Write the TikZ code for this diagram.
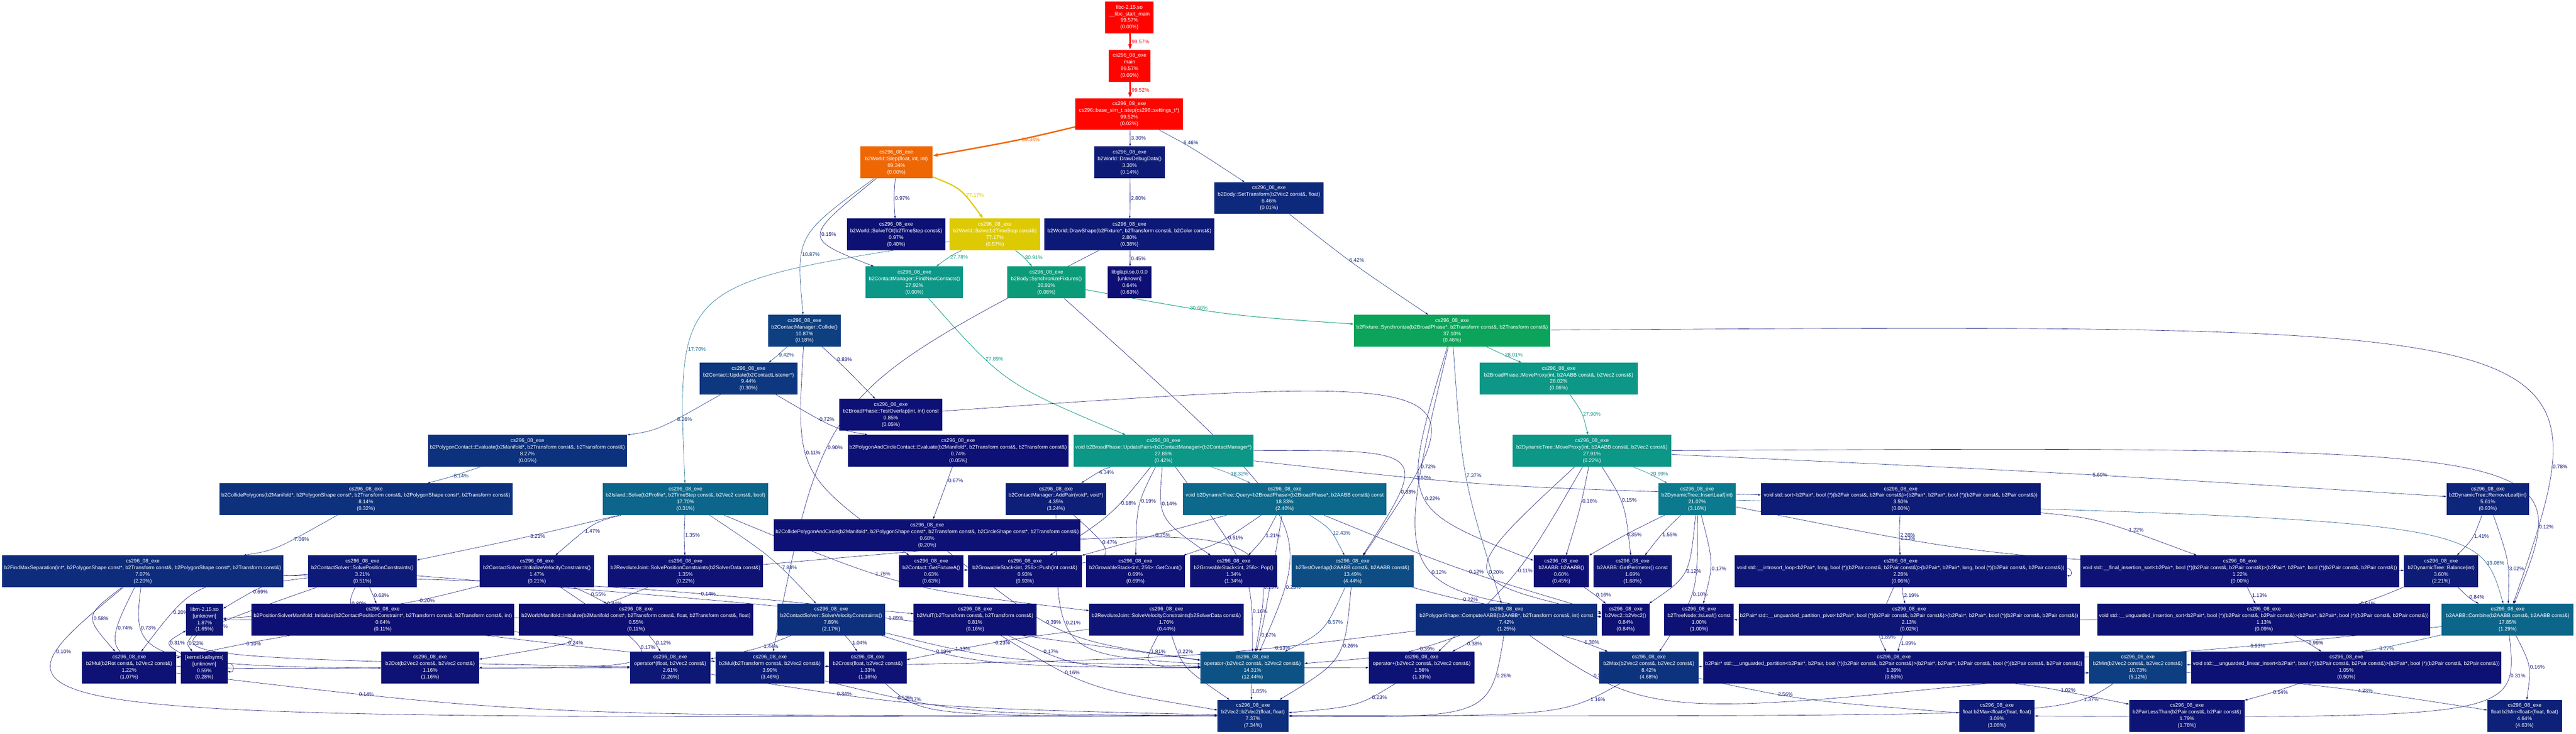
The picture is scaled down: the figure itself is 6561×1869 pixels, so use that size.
\documentclass[tikz,border=0pt]{standalone}
\usepackage{fontspec}
\setmainfont{Liberation Sans}
\usetikzlibrary{arrows.meta}
\pgfdeclarelayer{bg}
\pgfsetlayers{bg,main}
\newcommand\csex{cs296\_08\_exe}
\newcommand\gphue[2]{%
  \pgfmathsetmacro\gpt{#2}%
  \pgfmathsetmacro\gpt{\gpt<0 ? \gpt+1 : (\gpt>1 ? \gpt-1 : \gpt)}%
  \pgfmathsetmacro#1{(6*\gpt<1) ? (\gpa+(\gpb-\gpa)*\gpt*6) : ((2*\gpt<1) ? \gpb : ((3*\gpt<2) ? (\gpa+(\gpb-\gpa)*(2/3-\gpt)*6) : \gpa))}%
}
\newcommand\gcolor[2]{%
  \pgfmathsetmacro\gpw{#2}%
  \pgfmathsetmacro\gph{(2/3)*(1-\gpw)}%
  \pgfmathsetmacro\gps{0.8+0.2*\gpw}%
  \pgfmathsetmacro\gpl{0.25+0.25*\gpw}%
  \pgfmathsetmacro\gpb{\gpl*(\gps+1)}%
  \pgfmathsetmacro\gpa{2*\gpl-\gpb}%
  \gphue\gpr{\gph+1/3}%
  \gphue\gpg{\gph}%
  \gphue\gpbl{\gph-1/3}%
  \edef\gptmp{\noexpand\definecolor{#1}{rgb}{\gpr,\gpg,\gpbl}}\gptmp
}
\newcommand\gnode[8]{%
  \pgfmathsetmacro\gpw{#7/100}\gcolor{col#1}{\gpw}%
  \pgfmathsetmacro\gpcx{(#2+#3)/2}\pgfmathsetmacro\gpcy{#4+40.5}\pgfmathsetmacro\gpwd{(#3-#2)*0.5}%
  \expandafter\xdef\csname gpx@#1\endcsname{\gpcx}%
  \expandafter\xdef\csname gpy@#1\endcsname{\gpcy}%
  \node[fnode, fill=col#1, minimum width=\gpwd pt] (#1) at (\gpcx,\gpcy) {#5\\#6\\#7\%\\(#8\%)};%
}
\newcommand\gedge[5]{%
  \edef\gpax{\csname gpx@#1\endcsname}\edef\gpay{\csname gpy@#1\endcsname}%
  \edef\gpbx{\csname gpx@#2\endcsname}\edef\gpby{\csname gpy@#2\endcsname}%
  \pgfmathsetmacro\gppx{#4-22}\pgfmathsetmacro\gppy{#5}%
  \pgfmathsetmacro\gpda{veclen((\gppx-\gpax)/100,(\gppy-\gpay)/100)}%
  \pgfmathsetmacro\gpdb{veclen((\gpbx-\gppx)/100,(\gpby-\gppy)/100)}%
  \pgfmathsetmacro\gptt{max(0.2,min(0.8,\gpda/(\gpda+\gpdb+0.001)))}%
  \pgfmathsetmacro\gpk{3*\gptt*(1-\gptt)}%
  \pgfmathsetmacro\gpcx{(\gppx-(1-\gptt)^3*\gpax-\gptt^3*\gpbx)/\gpk}%
  \pgfmathsetmacro\gpcy{(\gppy-(1-\gptt)^3*\gpay-\gptt^3*\gpby)/\gpk}%
  \pgfmathsetmacro\gpw{#3/100}\gcolor{ecol}{\gpw}%
  \pgfmathsetmacro\gplw{max(4*\gpw,0.8)*0.5}%
  \pgfmathsetmacro\gpal{(5+2.2*max(4*\gpw,0.8))*0.5}%
  \pgfmathsetmacro\gpaw{\gpal*0.62}%
  \draw[draw=ecol, line width=\gplw pt, -{Triangle[length=\gpal pt, width=\gpaw pt]}] (#1) .. controls (\gpcx,\gpcy) .. (#2) node[elab, text=ecol, pos=\gptt] {#3\%};%
}
\tikzset{
  fnode/.style={rectangle, inner sep=0pt, minimum height=40.5pt, text=white, align=center, font=\fontsize{6.6pt}{8.5pt}\selectfont, draw=none},
  elab/.style={anchor=west, inner sep=1pt, font=\fontsize{6.6pt}{8pt}\selectfont}
}
\begin{document}
\begin{tikzpicture}[x=0.5pt, y=-0.5pt]
\useasboundingbox (0,0) rectangle (6561,1869);
% row 0-3
\gnode{libc}{2815}{2938}{4}{libc-2.15.so}{\_\_libc\_start\_main}{99.57}{0.00}
\gnode{main}{2824}{2930}{127}{\csex}{main}{99.57}{0.00}
\gnode{base}{2739}{3013}{250}{\csex}{cs296::base\_sim\_t::step(cs296::settings\_t*)}{99.52}{0.02}
\gnode{step}{2191}{2375}{373}{\csex}{b2World::Step(float, int, int)}{89.34}{0.00}
\gnode{ddd}{2787}{2967}{373}{\csex}{b2World::DrawDebugData()}{3.30}{0.14}
\gnode{settr}{3093}{3371}{464}{\csex}{b2Body::SetTransform(b2Vec2 const\&, float)}{6.46}{0.01}
\gnode{toi}{2157}{2408}{557}{\csex}{b2World::SolveTOI(b2TimeStep const\&)}{0.97}{0.40}
\gnode{solve}{2419}{2649}{557}{\csex}{b2World::Solve(b2TimeStep const\&)}{77.17}{0.57}
\gnode{dshape}{2660}{3093}{557}{\csex}{b2World::DrawShape(b2Fixture*, b2Transform const\&, b2Color const\&)}{2.80}{0.38}
\gnode{fnc}{2205}{2453}{679}{\csex}{b2ContactManager::FindNewContacts()}{27.92}{0.00}
\gnode{sfix}{2565}{2765}{679}{\csex}{b2Body::SynchronizeFixtures()}{30.91}{0.08}
\gnode{glapi}{2821}{2933}{679}{libglapi.so.0.0.0}{{[unknown]}}{0.64}{0.63}
\gnode{collide}{1956}{2142}{802}{\csex}{b2ContactManager::Collide()}{10.87}{0.18}
\gnode{fsync}{3448}{3949}{802}{\csex}{b2Fixture::Synchronize(b2BroadPhase*, b2Transform const\&, b2Transform const\&)}{37.10}{0.46}
\gnode{cupd}{1782}{2031}{924}{\csex}{b2Contact::Update(b2ContactListener*)}{9.44}{0.30}
\gnode{bpmove}{3769}{4171}{924}{\csex}{b2BroadPhase::MoveProxy(int, b2AABB const\&, b2Vec2 const\&)}{28.02}{0.06}
\gnode{testov}{2138}{2400}{1016}{\csex}{b2BroadPhase::TestOverlap(int, int) const}{0.85}{0.05}
\gnode{pceval}{1090}{1597}{1108}{\csex}{b2PolygonContact::Evaluate(b2Manifold*, b2Transform const\&, b2Transform const\&)}{8.27}{0.05}
\gnode{pcceval}{2160}{2721}{1108}{\csex}{b2PolygonAndCircleContact::Evaluate(b2Manifold*, b2Transform const\&, b2Transform const\&)}{0.74}{0.05}
\gnode{upairs}{2734}{3193}{1108}{\csex}{void b2BroadPhase::UpdatePairs<b2ContactManager>(b2ContactManager*)}{27.89}{0.42}
\gnode{dtmove}{3852}{4257}{1108}{\csex}{b2DynamicTree::MoveProxy(int, b2AABB const\&, b2Vec2 const\&)}{27.91}{0.22}
\gnode{cpoly}{559}{1305}{1231}{\csex}{b2CollidePolygons(b2Manifold*, b2PolygonShape const*, b2Transform const\&, b2PolygonShape const*, b2Transform const\&)}{8.14}{0.32}
\gnode{island}{1535}{1957}{1231}{\csex}{b2Island::Solve(b2Profile*, b2TimeStep const\&, b2Vec2 const\&, bool)}{17.70}{0.31}
\gnode{addpair}{2562}{2817}{1231}{\csex}{b2ContactManager::AddPair(void*, void*)}{4.35}{3.24}
\gnode{query}{3013}{3531}{1231}{\csex}{void b2DynamicTree::Query<b2BroadPhase>(b2BroadPhase*, b2AABB const\&) const}{18.33}{2.40}
\gnode{insleaf}{4224}{4421}{1231}{\csex}{b2DynamicTree::InsertLeaf(int)}{21.07}{3.16}
\gnode{sort}{4485}{5197}{1231}{\csex}{void std::sort<b2Pair*, bool (*)(b2Pair const\&, b2Pair const\&)>(b2Pair*, b2Pair*, bool (*)(b2Pair const\&, b2Pair const\&))}{3.50}{0.00}
\gnode{remleaf}{6231}{6442}{1231}{\csex}{b2DynamicTree::RemoveLeaf(int)}{5.61}{0.93}
\gnode{cpc}{1971}{2752}{1323}{\csex}{b2CollidePolygonAndCircle(b2Manifold*, b2PolygonShape const*, b2Transform const\&, b2CircleShape const*, b2Transform const\&)}{0.68}{0.20}
% row 10
\gnode{fms}{5}{722}{1415}{\csex}{b2FindMaxSeparation(int*, b2PolygonShape const*, b2Transform const\&, b2PolygonShape const*, b2Transform const\&)}{7.07}{2.20}
\gnode{cspos}{785}{1061}{1415}{\csex}{b2ContactSolver::SolvePositionConstraints()}{3.21}{0.51}
\gnode{civel}{1222}{1513}{1415}{\csex}{b2ContactSolver::InitializeVelocityConstraints()}{1.47}{0.21}
\gnode{rjpos}{1549}{1943}{1415}{\csex}{b2RevoluteJoint::SolvePositionConstraints(b2SolverData const\&)}{1.35}{0.22}
\gnode{getfa}{2290}{2454}{1415}{\csex}{b2Contact::GetFixtureA()}{0.63}{0.63}
\gnode{push}{2466}{2755}{1415}{\csex}{b2GrowableStack<int, 256>::Push(int const\&)}{0.93}{0.93}
\gnode{getcount}{2766}{3018}{1415}{\csex}{b2GrowableStack<int, 256>::GetCount()}{0.69}{0.69}
\gnode{pop}{3031}{3253}{1415}{\csex}{b2GrowableStack<int, 256>::Pop()}{1.34}{1.34}
\gnode{testovl}{3290}{3600}{1415}{\csex}{b2TestOverlap(b2AABB const\&, b2AABB const\&)}{13.49}{4.44}
\gnode{aabbctor}{3906}{4047}{1415}{\csex}{b2AABB::b2AABB()}{0.60}{0.45}
\gnode{perim}{4058}{4258}{1415}{\csex}{b2AABB::GetPerimeter() const}{1.69}{1.68}
\gnode{introsort}{4418}{5264}{1415}{\csex}{void std::\_\_introsort\_loop<b2Pair*, long, bool (*)(b2Pair const\&, b2Pair const\&)>(b2Pair*, b2Pair*, long, bool (*)(b2Pair const\&, b2Pair const\&))}{2.28}{0.06}
\gnode{finsort}{5299}{6111}{1415}{\csex}{void std::\_\_final\_insertion\_sort<b2Pair*, bool (*)(b2Pair const\&, b2Pair const\&)>(b2Pair*, b2Pair*, bool (*)(b2Pair const\&, b2Pair const\&))}{1.22}{0.00}
\gnode{balance}{6123}{6312}{1415}{\csex}{b2DynamicTree::Balance(int)}{3.60}{2.21}
% row 11
\gnode{libm}{474}{568}{1538}{libm-2.15.so}{{[unknown]}}{1.87}{1.65}
\gnode{psm}{640}{1310}{1538}{\csex}{b2PositionSolverManifold::Initialize(b2ContactPositionConstraint*, b2Transform const\&, b2Transform const\&, int)}{0.64}{0.11}
\gnode{wm}{1322}{1918}{1538}{\csex}{b2WorldManifold::Initialize(b2Manifold const*, b2Transform const\&, float, b2Transform const\&, float)}{0.55}{0.11}
\gnode{csvel}{1980}{2254}{1538}{\csex}{b2ContactSolver::SolveVelocityConstraints()}{7.89}{2.17}
\gnode{mult}{2327}{2640}{1538}{\csex}{b2MulT(b2Transform const\&, b2Transform const\&)}{0.81}{0.16}
\gnode{rjvel}{2774}{3167}{1538}{\csex}{b2RevoluteJoint::SolveVelocityConstraints(b2SolverData const\&)}{1.76}{0.44}
\gnode{caabb}{3606}{4068}{1538}{\csex}{b2PolygonShape::ComputeAABB(b2AABB*, b2Transform const\&, int) const}{7.42}{1.25}
\gnode{v2ctor}{4079}{4202}{1538}{\csex}{b2Vec2::b2Vec2()}{0.84}{0.84}
\gnode{isleaf}{4239}{4416}{1538}{\csex}{b2TreeNode::IsLeaf() const}{1.00}{1.00}
\gnode{upp}{4428}{5297}{1538}{\csex}{b2Pair* std::\_\_unguarded\_partition\_pivot<b2Pair*, bool (*)(b2Pair const\&, b2Pair const\&)>(b2Pair*, b2Pair*, bool (*)(b2Pair const\&, b2Pair const\&))}{2.13}{0.02}
\gnode{uis}{5342}{6190}{1538}{\csex}{void std::\_\_unguarded\_insertion\_sort<b2Pair*, bool (*)(b2Pair const\&, b2Pair const\&)>(b2Pair*, b2Pair*, bool (*)(b2Pair const\&, b2Pair const\&))}{1.13}{0.09}
\gnode{combine}{6219}{6555}{1538}{\csex}{b2AABB::Combine(b2AABB const\&, b2AABB const\&)}{17.85}{1.29}
% row 12
\gnode{mulrot}{209}{449}{1660}{\csex}{b2Mul(b2Rot const\&, b2Vec2 const\&)}{1.22}{1.07}
\gnode{kernel}{461}{580}{1660}{{[kernel.kallsyms]}}{{[unknown]}}{0.59}{0.28}
\gnode{dot}{971}{1220}{1660}{\csex}{b2Dot(b2Vec2 const\&, b2Vec2 const\&)}{1.16}{1.16}
\gnode{opmulf}{1605}{1809}{1660}{\csex}{operator*(float, b2Vec2 const\&)}{2.61}{2.26}
\gnode{multv}{1822}{2100}{1660}{\csex}{b2Mul(b2Transform const\&, b2Vec2 const\&)}{3.99}{3.46}
\gnode{cross}{2111}{2309}{1660}{\csex}{b2Cross(float, b2Vec2 const\&)}{1.33}{1.16}
\gnode{opminus}{3058}{3322}{1660}{\csex}{operator-(b2Vec2 const\&, b2Vec2 const\&)}{14.31}{12.44}
\gnode{opplus}{3486}{3756}{1660}{\csex}{operator+(b2Vec2 const\&, b2Vec2 const\&)}{1.56}{1.33}
\gnode{vmax}{4073}{4326}{1660}{\csex}{b2Max(b2Vec2 const\&, b2Vec2 const\&)}{8.42}{4.68}
\gnode{upart}{4338}{5309}{1660}{\csex}{b2Pair* std::\_\_unguarded\_partition<b2Pair*, b2Pair, bool (*)(b2Pair const\&, b2Pair const\&)>(b2Pair*, b2Pair*, b2Pair const\&, bool (*)(b2Pair const\&, b2Pair const\&))}{1.39}{0.53}
\gnode{vmin}{5321}{5569}{1660}{\csex}{b2Min(b2Vec2 const\&, b2Vec2 const\&)}{10.73}{5.12}
\gnode{uli}{5581}{6371}{1660}{\csex}{void std::\_\_unguarded\_linear\_insert<b2Pair*, bool (*)(b2Pair const\&, b2Pair const\&)>(b2Pair*, bool (*)(b2Pair const\&, b2Pair const\&))}{1.05}{0.50}
% row 13
\gnode{v2ctorff}{3101}{3282}{1783}{\csex}{b2Vec2::b2Vec2(float, float)}{7.37}{7.34}
\gnode{fmax}{4990}{5182}{1783}{\csex}{float b2Max<float>(float, float)}{3.09}{3.08}
\gnode{pairless}{5423}{5717}{1783}{\csex}{b2PairLessThan(b2Pair const\&, b2Pair const\&)}{1.79}{1.78}
\gnode{fmin}{6335}{6525}{1783}{\csex}{float b2Min<float>(float, float)}{4.64}{4.63}

\begin{pgfonlayer}{bg}
\fill[white] (0,0) rectangle (6561,1869);
\gedge{libc}{main}{99.57}{2900}{106}
\gedge{main}{base}{99.52}{2900}{229}
\gedge{base}{step}{89.34}{2637}{351}
\gedge{base}{ddd}{3.30}{2900}{351}
\gedge{base}{settr}{6.46}{3010}{351}
\gedge{step}{toi}{0.97}{2300}{505}
\gedge{step}{solve}{77.17}{2482}{505}
\gedge{ddd}{dshape}{2.80}{2900}{505}
\gedge{step}{fnc}{0.15}{2131}{597}
\gedge{step}{collide}{10.87}{2066}{658}
\gedge{solve}{fnc}{27.78}{2438}{658}
\gedge{solve}{sfix}{30.91}{2630}{658}
\gedge{dshape}{glapi}{0.45}{2900}{658}
\gedge{settr}{fsync}{6.42}{3452}{658}
\gedge{sfix}{fsync}{30.66}{3030}{780}
\gedge{solve}{island}{17.70}{1776}{903}
\gedge{collide}{cupd}{9.42}{2004}{903}
\gedge{collide}{testov}{0.83}{2137}{903}
\gedge{fnc}{upairs}{27.89}{2522}{903}
\gedge{fsync}{bpmove}{28.01}{3851}{903}
\gedge{cupd}{pceval}{8.26}{1758}{1057}
\gedge{cupd}{pcceval}{0.72}{2095}{1057}
\gedge{collide}{getfa}{0.11}{2077}{1148}
\gedge{dshape}{multv}{0.90}{2130}{1148}
\gedge{bpmove}{dtmove}{27.90}{4050}{1057}
\gedge{pceval}{cpoly}{8.14}{1180}{1210}
\gedge{pcceval}{cpc}{0.67}{2440}{1210}
\gedge{upairs}{addpair}{4.34}{2813}{1210}
\gedge{upairs}{query}{18.32}{3158}{1210}
\gedge{upairs}{sort}{3.50}{3561}{1210}
\gedge{testov}{testovl}{0.72}{3623}{1210}
\gedge{fsync}{caabb}{7.37}{3756}{1210}
\gedge{dtmove}{insleaf}{20.99}{4226}{1210}
\gedge{dtmove}{remleaf}{5.60}{5350}{1210}
\gedge{fsync}{combine}{0.78}{6512}{1210}
\gedge{upairs}{push}{0.18}{2882}{1272}
\gedge{upairs}{getcount}{0.19}{2930}{1272}
\gedge{upairs}{pop}{0.14}{2982}{1272}
\gedge{upairs}{testovl}{0.33}{3573}{1270}
\gedge{fsync}{aabbctor}{0.22}{3661}{1270}
\gedge{dtmove}{aabbctor}{0.16}{4051}{1270}
\gedge{dtmove}{perim}{0.15}{4146}{1270}
\gedge{cpoly}{fms}{7.06}{783}{1363}
\gedge{island}{cspos}{3.21}{1381}{1363}
\gedge{island}{civel}{1.47}{1503}{1363}
\gedge{island}{rjpos}{1.35}{1765}{1363}
\gedge{addpair}{getfa}{0.47}{2806}{1363}
\gedge{query}{push}{0.75}{2963}{1363}
\gedge{query}{getcount}{0.51}{3153}{1363}
\gedge{query}{pop}{1.21}{3243}{1363}
\gedge{query}{testovl}{12.43}{3414}{1363}
\gedge{insleaf}{aabbctor}{0.35}{4162}{1363}
\gedge{insleaf}{perim}{1.55}{4254}{1363}
\gedge{insleaf}{balance}{2.13}{4820}{1363}
\gedge{sort}{introsort}{2.28}{4860}{1363}
\gedge{sort}{finsort}{1.22}{5467}{1363}
\gedge{remleaf}{balance}{1.41}{6320}{1363}
\gedge{dtmove}{combine}{0.12}{6476}{1363}
\gedge{insleaf}{combine}{13.08}{6358}{1455}
\gedge{remleaf}{combine}{3.02}{6409}{1455}
\gedge{balance}{combine}{0.84}{6307}{1517}
\gedge{island}{csvel}{7.88}{2019}{1455}
\gedge{island}{rjvel}{1.75}{2241}{1455}
\gedge{fsync}{v2ctor}{0.12}{3677}{1455}
\gedge{query}{v2ctor}{0.12}{3762}{1455}
\gedge{dtmove}{v2ctor}{0.20}{3825}{1455}
\gedge{dtmove}{opplus}{0.11}{3883}{1455}
\gedge{insleaf}{v2ctor}{0.12}{4308}{1455}
\gedge{insleaf}{isleaf}{0.17}{4376}{1455}
\gedge{cspos}{libm}{0.69}{651}{1517}
\gedge{cspos}{multv}{0.80}{926}{1517}
\gedge{cspos}{psm}{0.63}{972}{1517}
\gedge{civel}{libm}{0.20}{1137}{1517}
\gedge{civel}{wm}{0.55}{1527}{1517}
\gedge{rjpos}{libm}{0.44}{1615}{1517}
\gedge{fms}{mult}{0.14}{1845}{1517}
\gedge{rjpos}{opminus}{0.19}{3233}{1517}
\gedge{sfix}{opminus}{0.23}{3285}{1517}
\gedge{testovl}{v2ctor}{0.22}{3707}{1517}
\gedge{aabbctor}{v2ctor}{0.16}{4085}{1517}
\gedge{insleaf}{vmax}{0.10}{4327}{1517}
\gedge{introsort}{upp}{2.19}{4870}{1517}
\gedge{finsort}{uis}{1.13}{5756}{1517}
\gedge{balance}{isleaf}{0.51}{6080}{1517}
\gedge{fms}{mulrot}{0.58}{269}{1578}
\gedge{fms}{dot}{0.74}{331}{1578}
\gedge{fms}{opmulf}{0.73}{382}{1578}
\gedge{cspos}{mulrot}{0.20}{449}{1578}
\gedge{cspos}{opmulf}{0.32}{615}{1578}
\gedge{cspos}{opminus}{1.89}{2302}{1578}
\gedge{cpc}{opminus}{0.39}{2682}{1578}
\gedge{addpair}{opminus}{0.21}{2742}{1578}
\gedge{upairs}{opminus}{0.16}{3210}{1578}
\gedge{testovl}{opminus}{8.57}{3402}{1578}
\gedge{fms}{v2ctorff}{0.10}{189}{1639}
\gedge{kernel}{libm}{0.31}{466}{1639}
\gedge{libm}{kernel}{0.23}{508}{1639}
\gedge{psm}{mulrot}{0.10}{654}{1639}
\gedge{psm}{dot}{0.24}{1418}{1639}
\gedge{civel}{dot}{0.17}{1630}{1639}
\gedge{wm}{opmulf}{0.12}{1690}{1639}
\gedge{csvel}{opmulf}{1.44}{1981}{1639}
\gedge{csvel}{cross}{1.04}{2190}{1639}
\gedge{csvel}{opplus}{0.19}{2339}{1639}
\gedge{csvel}{opminus}{1.13}{2395}{1639}
\gedge{rjvel}{cross}{0.23}{2550}{1639}
\gedge{mult}{opminus}{0.17}{2635}{1639}
\gedge{rjvel}{opminus}{1.81}{2963}{1639}
\gedge{rjvel}{v2ctorff}{0.22}{3014}{1639}
\gedge{query}{opminus}{0.67}{3227}{1639}
\gedge{caabb}{multv}{0.13}{3355}{1639}
\gedge{testovl}{v2ctorff}{0.26}{3437}{1639}
\gedge{caabb}{opminus}{0.39}{3674}{1639}
\gedge{caabb}{opplus}{0.38}{3758}{1639}
\gedge{caabb}{vmax}{1.36}{4059}{1639}
\gedge{introsort}{upart}{1.89}{4818}{1639}
\gedge{upp}{upart}{1.89}{4862}{1639}
\gedge{combine}{vmax}{6.93}{5813}{1639}
\gedge{uis}{uli}{0.99}{5900}{1639}
\gedge{combine}{vmin}{8.77}{6135}{1639}
\gedge{mult}{v2ctorff}{0.16}{2714}{1701}
\gedge{caabb}{v2ctorff}{0.26}{3834}{1701}
\gedge{caabb}{vmin}{0.39}{4049}{1701}
\gedge{combine}{fmax}{0.31}{6411}{1701}
\gedge{combine}{fmin}{0.16}{6460}{1701}
\gedge{opmulf}{v2ctorff}{0.34}{2111}{1761}
\gedge{multv}{v2ctorff}{0.52}{2238}{1761}
\gedge{cross}{v2ctorff}{0.17}{2306}{1761}
\gedge{opminus}{v2ctorff}{1.85}{3209}{1761}
\gedge{opplus}{v2ctorff}{0.23}{3539}{1761}
\gedge{mulrot}{v2ctorff}{0.14}{873}{1761}
\gedge{vmax}{v2ctorff}{1.16}{4107}{1761}
\gedge{vmax}{fmax}{2.56}{4514}{1761}
\gedge{upart}{pairless}{1.02}{5270}{1761}
\gedge{vmin}{v2ctorff}{1.37}{5358}{1761}
\gedge{uli}{pairless}{0.54}{5815}{1761}
\gedge{vmin}{fmin}{4.23}{6033}{1761}
% self loops
\gcolor{loopcol}{0.0}
\draw[draw=loopcol, line width=0.4pt, -{Triangle[length=3pt, width=2pt]}] ([yshift=5pt]kernel.east) .. controls +(9pt,2pt) and +(9pt,-2pt) .. ([yshift=-5pt]kernel.east);
\draw[draw=loopcol, line width=0.4pt, -{Triangle[length=3pt, width=2pt]}] ([yshift=3pt]introsort.east) .. controls +(7pt,2pt) and +(7pt,-2pt) .. ([yshift=-5pt]introsort.east);
\end{pgfonlayer}
\end{tikzpicture}
\end{document}
